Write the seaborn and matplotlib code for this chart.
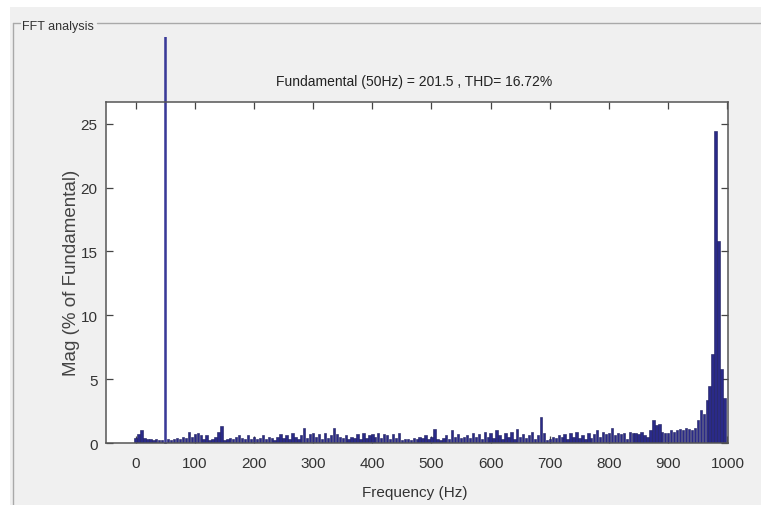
import numpy as np
import pandas as pd
import seaborn as sns
import matplotlib
matplotlib.use("Agg")
import matplotlib.pyplot as plt
from matplotlib.lines import Line2D
from matplotlib.patches import Rectangle
from matplotlib.transforms import Bbox, TransformedBbox

# ---------------- data ----------------
title_text = "Fundamental (50Hz) = 201.5 , THD= 16.72%"
panel_title = "FFT analysis"
xlabel = "Frequency (Hz)"
ylabel = "Mag (% of Fundamental)"

freq_step = 5
freqs = np.arange(0, 1000, freq_step)          # bin centres (Hz)

mag_000 = [0.4, 0.7, 1.0, 0.4, 0.3, 0.3, 0.2, 0.3, 0.2, 0.2,
           100.0, 0.3, 0.2, 0.3, 0.4, 0.3, 0.5, 0.4, 0.9, 0.5]
mag_100 = [0.7, 0.8, 0.6, 0.3, 0.6, 0.2, 0.3, 0.5, 0.9, 1.3,
           0.2, 0.3, 0.4, 0.3, 0.5, 0.6, 0.4, 0.3, 0.6, 0.3]
mag_200 = [0.5, 0.3, 0.4, 0.6, 0.3, 0.5, 0.4, 0.2, 0.5, 0.7,
           0.4, 0.6, 0.3, 0.8, 0.5, 0.3, 0.6, 1.2, 0.4, 0.7]
mag_300 = [0.8, 0.5, 0.7, 0.3, 0.8, 0.4, 0.6, 1.2, 0.7, 0.5,
           0.4, 0.6, 0.3, 0.5, 0.4, 0.7, 0.3, 0.8, 0.4, 0.6]
mag_400 = [0.7, 0.5, 0.8, 0.4, 0.7, 0.6, 0.3, 0.7, 0.4, 0.8,
           0.2, 0.3, 0.3, 0.2, 0.4, 0.3, 0.5, 0.4, 0.6, 0.3]
mag_500 = [0.5, 1.1, 0.3, 0.2, 0.4, 0.6, 0.3, 1.0, 0.5, 0.7,
           0.4, 0.5, 0.6, 0.4, 0.8, 0.5, 0.7, 0.3, 0.9, 0.5]
mag_600 = [0.8, 0.4, 1.0, 0.6, 0.3, 0.8, 0.5, 0.9, 0.3, 1.1,
           0.5, 0.7, 0.4, 0.6, 0.9, 0.3, 0.6, 2.0, 0.8, 0.2]
mag_700 = [0.3, 0.5, 0.4, 0.6, 0.5, 0.7, 0.3, 0.8, 0.5, 0.9,
           0.4, 0.6, 0.3, 0.8, 0.4, 0.7, 1.0, 0.5, 0.9, 0.7]
mag_800 = [0.8, 1.2, 0.6, 0.8, 0.7, 0.8, 0.3, 0.9, 0.8, 0.8,
           0.7, 0.9, 0.6, 0.5, 1.0, 1.8, 1.4, 1.5, 0.9, 0.8]
mag_900 = [0.8, 1.0, 0.9, 1.0, 1.1, 1.0, 1.2, 1.1, 1.0, 1.2,
           1.8, 2.6, 2.3, 3.4, 4.5, 7.0, 24.4, 15.8, 5.8, 3.5]

mags = (mag_000 + mag_100 + mag_200 + mag_300 + mag_400 +
        mag_500 + mag_600 + mag_700 + mag_800 + mag_900)

x_ticks = [0, 100, 200, 300, 400, 500, 600, 700, 800, 900, 1000]
y_ticks = [0, 5, 10, 15, 20, 25]

df = pd.DataFrame({"freq": freqs, "mag": mags})

# ---------------- figure ----------------
W, H = 761, 506
sns.set_style("ticks")
fam = ["Liberation Sans", "DejaVu Sans"]
plt.rcParams["font.family"] = fam

fig = plt.figure(figsize=(W / 100, H / 100), dpi=100)
fig.patch.set_facecolor("#f0f0f0")

# white strips at top/left of the screenshot
fig.add_artist(Rectangle((0, 1 - 8 / H), 1, 8 / H, transform=fig.transFigure,
                         facecolor="white", edgecolor="none", zorder=0))
fig.add_artist(Rectangle((0, 0), 10 / W, 1, transform=fig.transFigure,
                         facecolor="white", edgecolor="none", zorder=0))

# group box lines
gy = 1 - 24 / H
gcol = "#a9a9a9"
fig.add_artist(Line2D([13 / W, 20 / W], [gy, gy], transform=fig.transFigure,
                      color=gcol, lw=1))
fig.add_artist(Line2D([97 / W, 1.0], [gy, gy], transform=fig.transFigure,
                      color=gcol, lw=1))
fig.add_artist(Line2D([13 / W, 13 / W], [0, gy], transform=fig.transFigure,
                      color=gcol, lw=1))
fig.text(22 / W, 1 - 30 / H, panel_title, fontsize=9, color="#333333",
         ha="left", va="baseline", family=fam)

ax_l, ax_r, ax_t, ax_b = 106, 728, 103, 444
ax = fig.add_axes([ax_l / W, 1 - ax_b / H, (ax_r - ax_l) / W, (ax_b - ax_t) / H])
ax.set_facecolor("white")

sns.barplot(data=df, x="freq", y="mag", native_scale=True, width=0.8,
            color="#2a2a88", edgecolor="#1c1c5c", linewidth=0.4,
            saturation=1, errorbar=None, ax=ax)

ax.set_xlim(-50, 1001)
ax.set_ylim(0, 26.7)

# the fundamental bar overflows the axes up to the panel area
clip = TransformedBbox(Bbox([[0, 0], [1, 1 - 38 / H]]), fig.transFigure)
for p in ax.patches:
    if p.get_height() > 26.7:
        p.set_clip_path(None)
        p.set_clip_box(clip)
        p.set_facecolor("#3a3a98")
        p.set_edgecolor("#3a3a98")

ax.set_xticks(x_ticks)
ax.set_yticks(y_ticks)
ax.set_xticklabels([str(v) for v in x_ticks])
ax.set_yticklabels([str(v) for v in y_ticks])
ax.tick_params(axis="both", direction="in", length=5, width=0.9,
               color="#444444", labelsize=11, labelcolor="#333333",
               top=True, right=True)
ax.tick_params(axis="x", pad=9)
ax.tick_params(axis="y", pad=6)
for s in ax.spines.values():
    s.set_visible(True)
    s.set_color("#555555")
    s.set_linewidth(1.1)

ax.set_xlabel("")
ax.set_ylabel("")
fig.text(415 / W, 1 - 497 / H, xlabel, fontsize=11, color="#333333",
         ha="center", va="baseline", family=fam)
fig.text(72 / W, 1 - 273 / H, ylabel, fontsize=13.5, color="#444444",
         ha="center", va="center", rotation=90, family=fam)
fig.text(414 / W, 1 - 86 / H, title_text, fontsize=10, color="#222222",
         ha="center", va="baseline", family=fam)

fig.savefig("out.png", dpi=100, facecolor=fig.get_facecolor())
